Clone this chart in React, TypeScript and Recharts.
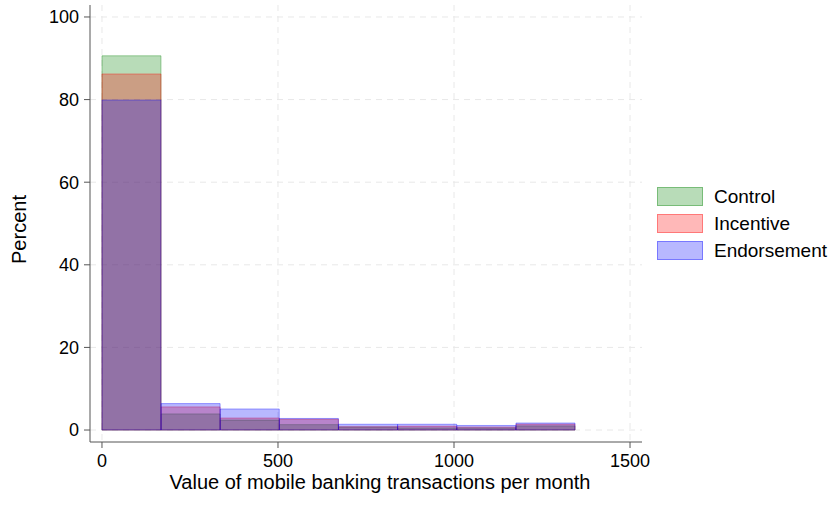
import { Bar, ComposedChart, CartesianGrid, XAxis, YAxis } from "recharts";

document.body.style.margin = "0";

// histogram bins (lower edge), width 168
const binStarts = [0, 168, 336, 504, 672, 840, 1008, 1176];
const BIN_WIDTH = 168;

// percent of each group per bin
const control = [90.6, 3.9, 2.4, 1.3, 0.7, 0.5, 0.5, 1.0];
const incentive = [86.2, 5.6, 2.9, 2.6, 0.8, 0.9, 0.7, 1.4];
const endorsement = [79.9, 6.4, 5.1, 2.8, 1.4, 1.4, 1.1, 1.7];

const xTicks = [0, 500, 1000, 1500];
const yTicks = [0, 20, 40, 60, 80, 100];

const X_DOMAIN: [number, number] = [-34, 1534];
const Y_DOMAIN: [number, number] = [-2.9, 102.9];

const series = [
  { key: "control", name: "Control", color: "#008000" },
  { key: "incentive", name: "Incentive", color: "#ff0000" },
  { key: "endorsement", name: "Endorsement", color: "#0000ff" },
];

const data = binStarts.map((bin, i) => ({
  bin,
  control: control[i],
  incentive: incentive[i],
  endorsement: endorsement[i],
}));

const W = 832;
const H = 506;
const MARGIN = { top: 5, right: 190, bottom: 0, left: 0 };
const Y_AXIS_W = 90;
const X_AXIS_H = 64;
const FONT = "'Liberation Sans', Arial, Helvetica, sans-serif";

// hidden band axes line up with the numeric axis via padding
const plotW = W - MARGIN.left - MARGIN.right - Y_AXIS_W;
const pxPerUnit = plotW / (X_DOMAIN[1] - X_DOMAIN[0]);
const lastEdge = binStarts[binStarts.length - 1] + BIN_WIDTH;
const bandPadding = {
  left: (binStarts[0] - X_DOMAIN[0]) * pxPerUnit,
  right: (X_DOMAIN[1] - lastEdge) * pxPerUnit,
};

const axisColor = "#555";
const tickStyle = { fontSize: 18, fill: "#000", fontFamily: FONT };
const titleStyle = { fontSize: 20, fill: "#000", fontFamily: FONT };

export default function App() {
  return (
    <div style={{ position: "relative", width: W, height: H, fontFamily: FONT }}>
      <ComposedChart width={W} height={H} data={data} margin={MARGIN} barCategoryGap={0} barGap={0}>
        <CartesianGrid
          xAxisId="num"
          stroke="#e8e8e8"
          strokeDasharray="6 5"
          horizontalValues={yTicks}
          verticalValues={xTicks}
        />
        <XAxis
          xAxisId="num"
          dataKey="bin"
          type="number"
          orientation="bottom"
          domain={X_DOMAIN}
          ticks={xTicks}
          interval={0}
          allowDataOverflow
          height={X_AXIS_H}
          stroke={axisColor}
          tickSize={6}
          tickMargin={6}
          tick={tickStyle}
          label={{
            value: "Value of mobile banking transactions per month",
            position: "insideBottom",
            offset: 17,
            dx: 14,
            style: titleStyle,
          }}
        />
        {series.map((s) => (
          <XAxis
            key={s.key}
            xAxisId={s.key}
            dataKey="bin"
            type="category"
            orientation="top"
            height={0}
            hide
            padding={bandPadding}
          />
        ))}
        <YAxis
          type="number"
          domain={Y_DOMAIN}
          ticks={yTicks}
          allowDataOverflow
          width={Y_AXIS_W}
          stroke={axisColor}
          tickSize={6}
          tickMargin={5}
          tick={tickStyle}
          label={{
            value: "Percent",
            angle: -90,
            position: "insideLeft",
            offset: 19,
            dy: 6,
            style: { ...titleStyle, textAnchor: "middle" },
          }}
        />
        {series.map((s) => (
          <Bar
            key={s.key}
            xAxisId={s.key}
            dataKey={s.key}
            name={s.name}
            fill={s.color}
            fillOpacity={0.28}
            stroke={s.color}
            strokeOpacity={0.35}
            strokeWidth={1}
            isAnimationActive={false}
          />
        ))}
      </ComposedChart>
      <div style={{ position: "absolute", left: 657, top: 183 }}>
        {series.map((s) => (
          <div key={s.key} style={{ display: "flex", alignItems: "center", height: 27 }}>
            <div
              style={{
                width: 44,
                height: 17,
                background: "rgba(" + hexRgb(s.color) + ",0.28)",
                border: "1px solid rgba(" + hexRgb(s.color) + ",0.35)",
              }}
            />
            <span style={{ marginLeft: 11, fontSize: 19, color: "#000" }}>{s.name}</span>
          </div>
        ))}
      </div>
    </div>
  );
}

function hexRgb(hex: string) {
  const n = parseInt(hex.slice(1), 16);
  return [(n >> 16) & 255, (n >> 8) & 255, n & 255].join(",");
}
